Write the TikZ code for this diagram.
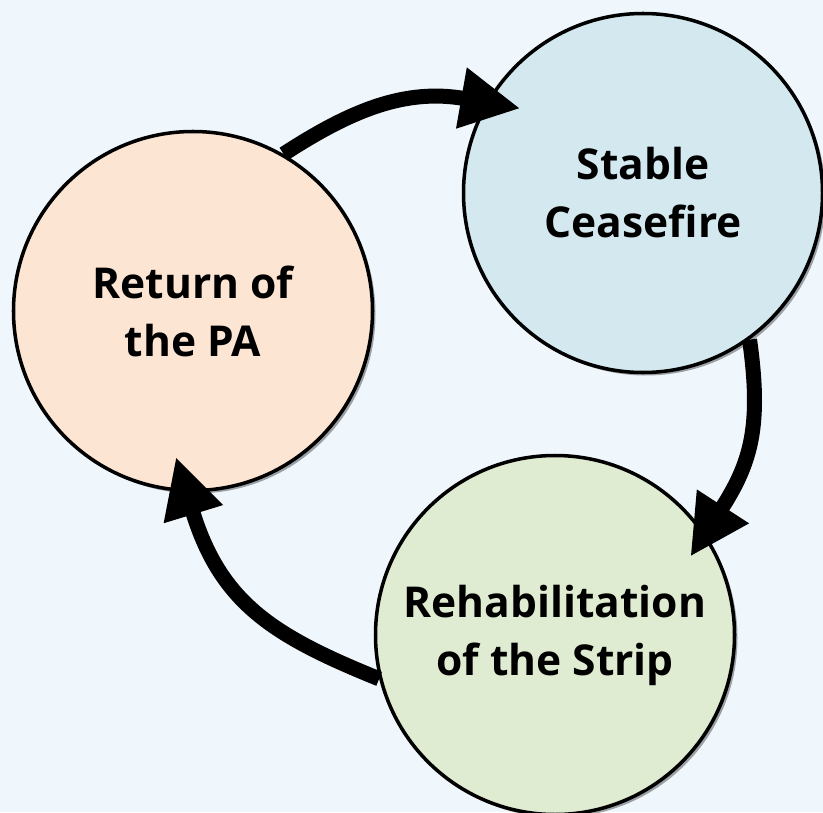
\documentclass[tikz,border=0pt]{standalone}
\usepackage{xcolor}
\usepackage{fontspec}
\setmainfont{Open Sans}
\usepackage{tikz}
\usetikzlibrary{arrows.meta, shadows}

\definecolor{bgblue}{HTML}{EFF6FC}
\definecolor{peach}{HTML}{FDE5D3}
\definecolor{iceblue}{HTML}{D3E9EF}
\definecolor{sage}{HTML}{E0ECD1}

\begin{document}
\begin{tikzpicture}[>={Triangle[length=1.2cm, width=1.15cm]},
			stage/.style={circle,
				draw=black,
				line width=2pt,
				minimum size=7.18cm,
				align=center,
				text=black,
				font=\fontsize{24.2}{33}\selectfont\bfseries,
				drop shadow={shadow xshift=0.06cm, shadow yshift=-0.06cm, opacity=0.35, fill=black}},
			cyclearrow/.style={->, line width=0.3cm, black}]
			
			\fill[bgblue] (0,0) rectangle (16.46,16.24);
			\useasboundingbox (0,0) rectangle (16.46,16.24);
			
			\node[stage, fill=peach] (pa) at (3.86,10.02) {Return of\\the PA};
			\node[stage, fill=iceblue] (cf) at (12.86,12.38) {Stable\\Ceasefire};
			\node[stage, fill=sage] (rs) at (11.10,3.54) {Rehabilitation\\of the Strip};
			
			\draw[cyclearrow, shorten >=-0.7cm] (pa.60) to[out=33, in=170] (cf.150);
			\draw[cyclearrow, shorten >=-0.55cm] (cf.-54) to[out=-82, in=57, looseness=1.1] (rs.34);
			\draw[cyclearrow, shorten >=-0.74cm] (rs.194) to[out=158, in=287, looseness=1.1] (pa.268);
		\end{tikzpicture}
\end{document}
